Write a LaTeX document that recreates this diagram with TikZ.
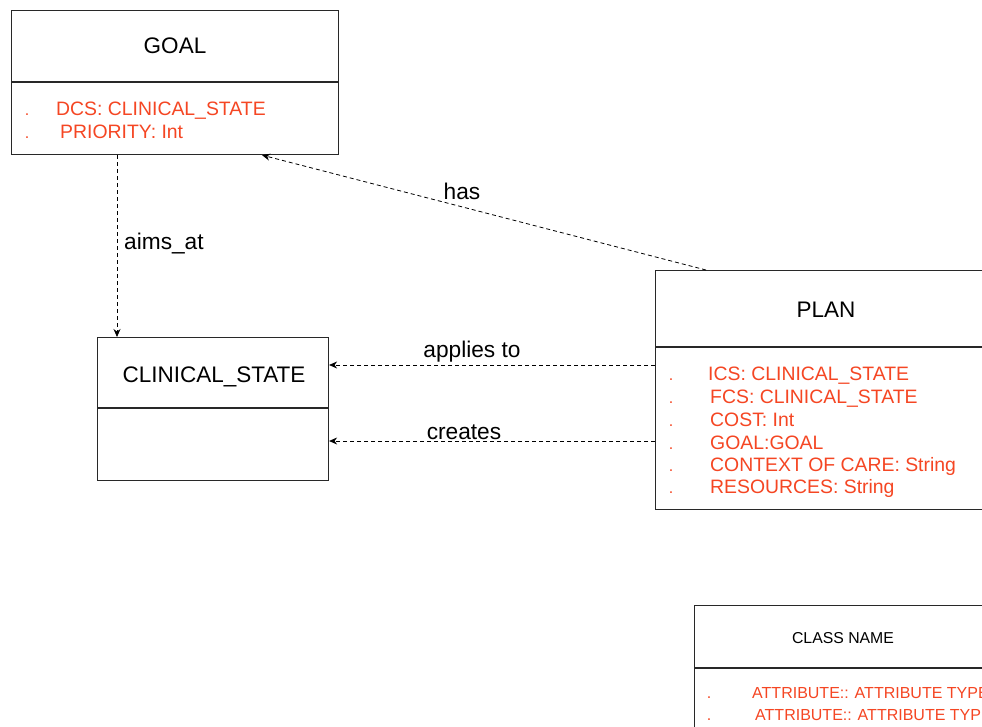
\documentclass[tikz,border=0pt]{standalone}
\usepackage{fontspec}
\setmainfont{Liberation Sans}
\usetikzlibrary{arrows.meta}
\definecolor{attr}{RGB}{245,70,35}
\definecolor{edge}{RGB}{40,40,40}
\begin{document}
\begin{tikzpicture}[x=1pt,y=-1pt,
  box/.style={draw=edge,line width=1.1pt,rectangle,inner sep=0pt,anchor=north west},
  divider/.style={draw=edge,line width=1.1pt},
  title/.style={font=\fontsize{22.5}{26}\selectfont,inner sep=0pt,anchor=base},
  smalltitle/.style={font=\fontsize{15.8}{18}\selectfont,inner sep=0pt,anchor=base},
  attrtext/.style={font=\fontsize{19.4}{22}\selectfont,text=attr,inner sep=0pt,anchor=base west},
  smallattr/.style={font=\fontsize{16}{19}\selectfont,text=attr,inner sep=0pt,anchor=base west},
  dotmark/.style={font=\fontsize{16}{19}\selectfont,text=attr,inner sep=0pt,anchor=base},
  conn/.style={draw=black,line width=0.8pt,dash pattern=on 4pt off 3pt,-{Stealth[length=8pt,width=7pt]}},
  lbl/.style={font=\fontsize{22.7}{26}\selectfont,inner sep=0pt,anchor=base}]
\useasboundingbox (0,0) rectangle (982,727);
\clip (0,0) rectangle (982,727);
\fill[white] (0,0) rectangle (982,727);

% GOAL
\node[box,minimum width=327pt,minimum height=144pt] (goal) at (11,10) {};
\coordinate (gdiv) at (0,82);
\draw[divider] (goal.west |- gdiv) -- (goal.east |- gdiv);
\node[title] (goalt) at (175,54) {GOAL};
\node[dotmark] (gd1) at (27,116) {.};
\node[attrtext] (ga1) at (56,116) {DCS: CLINICAL\_STATE};
\node[dotmark] (gd2) at (27,139) {.};
\node[attrtext] (ga2) at (60,139) {PRIORITY: Int};

% CLINICAL_STATE
\node[box,minimum width=231pt,minimum height=143pt] (cs) at (97,337) {};
\coordinate (cdiv) at (0,408);
\draw[divider] (cs.west |- cdiv) -- (cs.east |- cdiv);
\node[title] (cst) at (214,382) {CLINICAL\_STATE};

% PLAN
\node[box,minimum width=360pt,minimum height=239pt] (plan) at (655,270) {};
\coordinate (pdiv) at (0,347);
\draw[divider] (plan.west |- pdiv) -- (plan.east |- pdiv);
\node[title] (plant) at (826,317) {PLAN};
\node[dotmark] (pd1) at (671,380) {.};
\node[attrtext] (pa1) at (708,380) {ICS: CLINICAL\_STATE};
\node[dotmark] (pd2) at (671,403) {.};
\node[attrtext] (pa2) at (710,403) {FCS: CLINICAL\_STATE};
\node[dotmark] (pd3) at (671,426) {.};
\node[attrtext] (pa3) at (710,426) {COST: Int};
\node[dotmark] (pd4) at (671,449) {.};
\node[attrtext] (pa4) at (710,449) {GOAL:GOAL};
\node[dotmark] (pd5) at (671,471) {.};
\node[attrtext] (pa5) at (710,471) {CONTEXT OF CARE: String};
\node[dotmark] (pd6) at (671,493) {.};
\node[attrtext] (pa6) at (710,493) {RESOURCES: String};

% CLASS NAME
\node[box,minimum width=320pt,minimum height=160pt] (cls) at (694,605) {};
\coordinate (kdiv) at (0,668);
\draw[divider] (cls.west |- kdiv) -- (cls.east |- kdiv);
\node[smalltitle] (clst) at (843,643) {CLASS NAME};
\node[dotmark] (kd1) at (709,698) {.};
\node[smallattr] (ka1) at (752,698) {ATTRIBUTE:: ATTRIBUTE TYPE};
\node[dotmark] (kd2) at (709,720) {.};
\node[smallattr] (ka2) at (755,720) {ATTRIBUTE:: ATTRIBUTE TYPE};

% connectors
\coordinate (ax) at (117,0);
\draw[conn] (goal.south -| ax) -- (cs.north -| ax);
\node[lbl,anchor=base west] (aims) at (124,250) {aims\_at};

\coordinate (hs) at (706,0);
\coordinate (ht) at (262,0);
\draw[conn] (plan.north -| hs) -- (goal.south -| ht);
\node[lbl] (has) at (462,200) {has};

\coordinate (ay) at (0,365);
\draw[conn] (plan.west |- ay) -- (cs.east |- ay);
\node[lbl] (app) at (472,357) {applies to};

\coordinate (cy) at (0,441);
\draw[conn] (plan.west |- cy) -- (cs.east |- cy);
\node[lbl] (cre) at (464,439) {creates};
\end{tikzpicture}
\end{document}
